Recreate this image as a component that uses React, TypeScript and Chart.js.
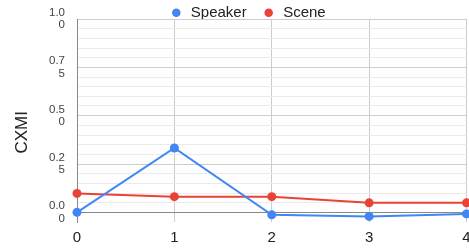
import { useEffect, useRef } from 'react';
import { Chart, registerables } from 'chart.js';

Chart.register(...registerables);

const categories = ['0', '1', '2', '3', '4'];
const seriesNames = ['Speaker', 'Scene'];
const speakerValues = [0.0, 0.333, -0.013, -0.021, -0.008];
const sceneValues = [0.098, 0.081, 0.081, 0.049, 0.049];
const yMajorTicks = [0, 0.25, 0.5, 0.75, 1.0];
const yTickLabels = [['0.0', '0'], ['0.2', '5'], ['0.5', '0'], ['0.7', '5'], ['1.0', '0']];
const yTitle = 'CXMI';

const FONT = "Arial, 'Liberation Sans', sans-serif";
const BLUE = '#4285F4';
const RED = '#EA4335';
const CLEAR = 'rgba(0,0,0,0)';

export default function App() {
  const ref = useRef<HTMLCanvasElement>(null);

  useEffect(() => {
    document.body.style.margin = '0';
    document.body.style.overflow = 'hidden';
    const canvas = ref.current;
    if (!canvas) return;

    const LEGEND_DX = 12;
    const LEGEND_DY = -9.8;

    const legendTweak = {
      id: 'legendTweak',
      beforeUpdate(chart: any) {
        const lg = chart.legend;
        if (lg && !lg.__patched) {
          lg.__patched = true;
          const fit = lg.fit.bind(lg);
          lg.fit = function () {
            fit();
            this.height = 19;
          };
          const draw = lg.draw.bind(lg);
          lg.draw = function () {
            const { top, left, right } = this;
            this.top = top + LEGEND_DY;
            this.left = left + LEGEND_DX;
            this.right = right + LEGEND_DX;
            draw();
            this.top = top;
            this.left = left;
            this.right = right;
          };
        }
      },
    };

    const isMajor = (v: number) => yMajorTicks.findIndex((m) => Math.abs(m - v) < 1e-6);

    const chart = new Chart(canvas, {
      type: 'line',
      data: {
        labels: categories,
        datasets: [
          {
            label: seriesNames[0],
            data: speakerValues,
            borderColor: BLUE,
            backgroundColor: BLUE,
            pointBackgroundColor: BLUE,
            borderWidth: 2,
            pointRadius: 4.5,
            pointBorderWidth: 0,
            tension: 0,
            clip: false,
          },
          {
            label: seriesNames[1],
            data: sceneValues,
            borderColor: RED,
            backgroundColor: RED,
            pointBackgroundColor: RED,
            borderWidth: 2,
            pointRadius: 4.5,
            pointBorderWidth: 0,
            tension: 0,
            clip: false,
          },
        ],
      },
      options: {
        animation: false,
        responsive: true,
        maintainAspectRatio: false,
        layout: { padding: { top: 0, left: 0, right: 0, bottom: 3 } },
        plugins: {
          tooltip: { enabled: false },
          legend: {
            position: 'top',
            align: 'center',
            labels: {
              usePointStyle: true,
              pointStyle: 'circle',
              boxWidth: 14,
              boxHeight: 6,
              padding: 15,
              color: '#222',
              font: { family: FONT, size: 15 },
            },
          },
        },
        scales: {
          x: {
            type: 'category',
            offset: false,
            grid: {
              drawTicks: true,
              tickLength: 7,
              tickColor: CLEAR,
              color: (ctx: any) => (ctx.index === 0 ? CLEAR : '#cccccc'),
            },
            border: { display: false },
            ticks: {
              color: '#222',
              font: { family: FONT, size: 15 },
              padding: 0,
              maxRotation: 0,
              autoSkip: false,
            },
          },
          y: {
            type: 'linear',
            min: -0.05,
            max: 1.0,
            afterFit: (s: any) => {
              s.width = 77;
            },
            grid: {
              drawTicks: true,
              tickLength: 12,
              tickColor: CLEAR,
              color: (ctx: any) => {
                const v = ctx.tick ? ctx.tick.value : 0;
                if (v < -1e-6) return CLEAR;
                if (Math.abs(v) < 1e-6) return '#888888';
                if (isMajor(v) >= 0) return '#cccccc';
                return '#ebebeb';
              },
            },
            border: { display: true, color: '#888888', width: 1 },
            title: {
              display: true,
              text: yTitle + '     ',
              color: '#222',
              font: { family: FONT, size: 17 },
              padding: { top: 12, bottom: 0 },
            },
            ticks: {
              stepSize: 0.05,
              autoSkip: false,
              padding: 0,
              color: '#444',
              font: { family: FONT, size: 11.5, lineHeight: 1.08 },
              callback: (value: any) => {
                const v = Number(value);
                const idx = isMajor(v);
                if (idx >= 0) return yTickLabels[idx];
                return '';
              },
            },
          },
        },
      },
      plugins: [legendTweak],
    });

    return () => chart.destroy();
  }, []);

  return (
    <div style={{ position: 'relative', width: '471px', height: '250px' }}>
      <canvas ref={ref} />
    </div>
  );
}
